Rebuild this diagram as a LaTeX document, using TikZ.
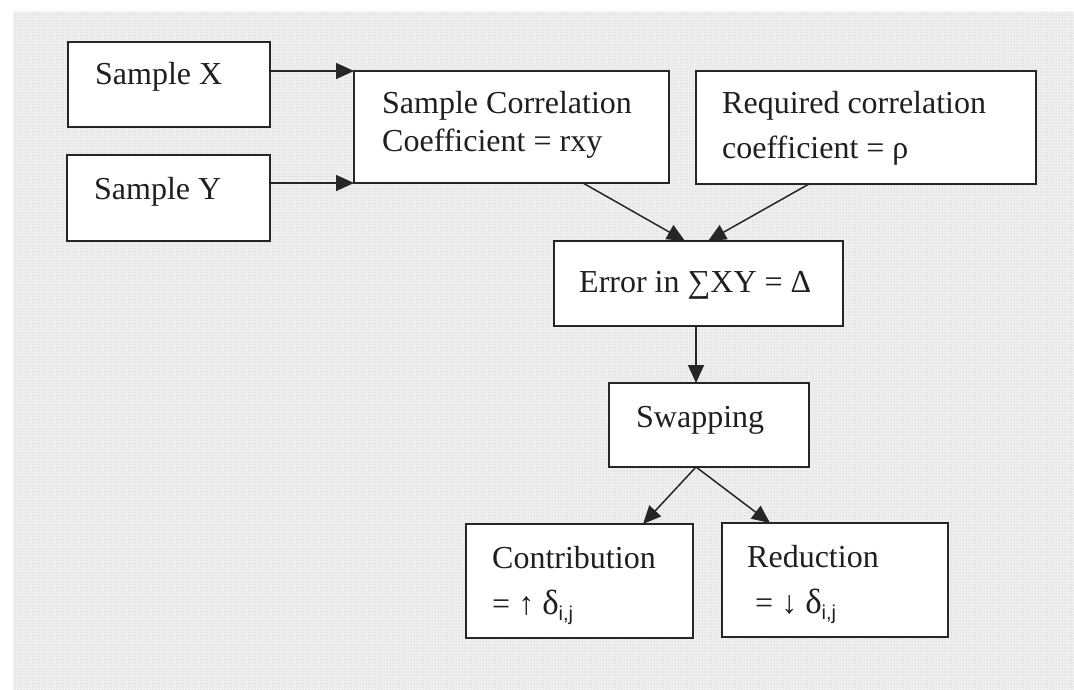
\documentclass[tikz,border=0pt]{standalone}
\usepackage{fontspec}
\setmainfont{Liberation Serif}
\newfontfamily\subfont{Liberation Sans}
\usetikzlibrary{arrows.meta,calc,patterns}

% subscript "i,j" set a little smaller and below the baseline
\newcommand{\ijsub}{\raisebox{-6pt}{\subfont\fontsize{20}{20}\selectfont i,j}}
% slightly enlarged Greek delta
\newcommand{\bigdelta}{{\fontsize{35}{38}\selectfont δ}}

\begin{document}
\begin{tikzpicture}[x=1pt,y=-1pt,
  box/.style={draw=black!85, line width=1.8pt, fill=white, inner sep=0pt, outer sep=0pt, anchor=north west},
  txt/.style={anchor=base west, inner sep=0pt, text=black!88, font=\fontsize{32}{38}\selectfont},
  arr/.style={draw=black!85, line width=1.5pt, -{Triangle[length=18pt,width=16pt]}}]

% page and dotted backdrop
\useasboundingbox (0,0) rectangle (1074,690);
\fill[white] (0,0) rectangle (1074,690);
\fill[black!6] (13,12) rectangle (1074,690);
\fill[pattern=dots, pattern color=black!30] (13,12) rectangle (1074,690);

% boxes
\node[box, minimum width=202pt, minimum height=85pt]  (sx)   at (68,42)   {};
\node[box, minimum width=203pt, minimum height=86pt]  (sy)   at (67,155)  {};
\node[box, minimum width=315pt, minimum height=112pt] (corr) at (354,71)  {};
\node[box, minimum width=340pt, minimum height=113pt] (req)  at (696,71)  {};
\node[box, minimum width=289pt, minimum height=85pt]  (err)  at (554,241) {};
\node[box, minimum width=200pt, minimum height=84pt]  (swap) at (609,383) {};
\node[box, minimum width=227pt, minimum height=114pt] (con)  at (466,524) {};
\node[box, minimum width=226pt, minimum height=114pt] (red)  at (722,523) {};

% box texts
\node[txt] (sxt)   at ($(sx.north west)+(27,43)$)   {Sample X};
\node[txt] (syt)   at ($(sy.north west)+(27,45)$)   {Sample Y};
\node[txt] (corr1) at ($(corr.north west)+(28,43)$) {Sample Correlation};
\node[txt] (corr2) at ($(corr.north west)+(28,81)$) {Coefficient = rxy};
\node[txt] (req1)  at ($(req.north west)+(26,43)$)  {Required correlation};
\node[txt] (req2)  at ($(req.north west)+(26,88)$)  {coefficient = ρ};
\node[txt] (errt)  at ($(err.north west)+(25,51)$)  {Error in ∑XY = Δ};
\node[txt] (swapt) at ($(swap.north west)+(27,44)$) {Swapping};
\node[txt] (con1)  at ($(con.north west)+(26,44)$)  {Contribution};
\node[txt] (con2)  at ($(con.north west)+(26,90)$)  {= ↑ \bigdelta\ijsub};
\node[txt] (red1)  at ($(red.north west)+(25,44)$)  {Reduction};
\node[txt] (red2)  at ($(red.north west)+(33,90)$)  {= ↓ \bigdelta\ijsub};

% connectors
\draw[arr] (sx.east |- corr.north west) -- (corr.north west);
\draw[arr] (sy.east |- corr.south west) -- (corr.south west);
\draw[arr] ([xshift=71.5pt]corr.south) -- ([xshift=-13.5pt]err.north);
\draw[arr] ([xshift=-57pt]req.south) -- ([xshift=9.5pt]err.north);
\draw[arr] ([xshift=-2.5pt]err.south) coordinate (e1) -- (e1 |- swap.north);
\draw[arr] ([xshift=-13pt]swap.south) -- ([xshift=63.5pt]con.north);
\draw[arr] ([xshift=-13pt]swap.south) -- ([xshift=-65pt]red.north);
\end{tikzpicture}
\end{document}
